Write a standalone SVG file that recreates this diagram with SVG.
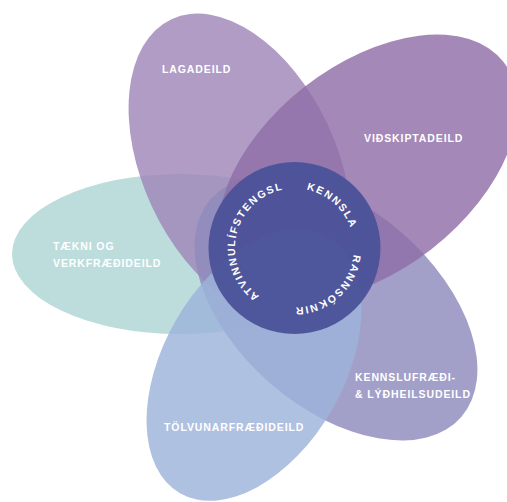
<svg xmlns="http://www.w3.org/2000/svg" xmlns:xlink="http://www.w3.org/1999/xlink" width="507" height="502" viewBox="0 0 507 502">
<style>
.lbl{font-family:"Liberation Sans",Arial,sans-serif;font-weight:bold;font-size:10.5px;fill:#ffffff;letter-spacing:0.9px}
.ring{font-family:"Liberation Sans",Arial,sans-serif;font-weight:bold;font-size:10.5px;fill:#ffffff;letter-spacing:1.6px}
.petal{fill-opacity:0.82}
</style>
<defs>
<path id="ringPath" d="M354,248 A59.5,59.5 0 1,1 235,248 A59.5,59.5 0 1,1 354,248"/>
</defs>
<rect width="507" height="502" fill="#ffffff"/>
<g id="taekni">
<ellipse cx="180" cy="254" rx="168" ry="80" fill="#bddddd"/>
<text class="lbl" x="53" y="250">TÆKNI OG</text>
<text class="lbl" x="53" y="266.5">VERKFRÆÐIDEILD</text>
</g>
<g id="lagadeild">
<ellipse class="petal" cx="240" cy="166" rx="97" ry="162" transform="rotate(-25 240 166)" fill="#9f86b7"/>
</g>
<g id="kennslufraedi">
<ellipse class="petal" cx="336" cy="308" rx="166" ry="100" transform="rotate(41 336 308)" fill="#8e8bbd"/>
</g>
<g id="vidskipta">
<ellipse class="petal" cx="368" cy="168" rx="172" ry="103" transform="rotate(-38 368 168)" fill="#8f6ea8"/>
</g>
<g id="tolvunar">
<ellipse class="petal" cx="254" cy="365" rx="90" ry="148" transform="rotate(30 254 365)" fill="#9db3da"/>
</g>
<g id="labels">
<text class="lbl" x="162" y="73">LAGADEILD</text>
<text class="lbl" x="364" y="142">VIÐSKIPTADEILD</text>
<text class="lbl" x="355" y="381">KENNSLUFRÆÐI-</text>
<text class="lbl" x="355" y="398">&amp; LÝÐHEILSUDEILD</text>
<text class="lbl" x="164" y="430.5">TÖLVUNARFRÆÐIDEILD</text>
</g>
<g id="center">
<circle cx="294.5" cy="248" r="86" fill="#4b5299" fill-opacity="0.96"/>
<text class="ring" text-anchor="middle"><textPath xlink:href="#ringPath" href="#ringPath" startOffset="323">KENNSLA</textPath></text>
<text class="ring" text-anchor="middle"><textPath xlink:href="#ringPath" href="#ringPath" startOffset="50">RANNSÓKNIR</textPath></text>
<text class="ring" text-anchor="middle"><textPath xlink:href="#ringPath" href="#ringPath" startOffset="200">ATVINNULÍFSTENGSL</textPath></text>
</g>
<g id="connectors"/>
</svg>
